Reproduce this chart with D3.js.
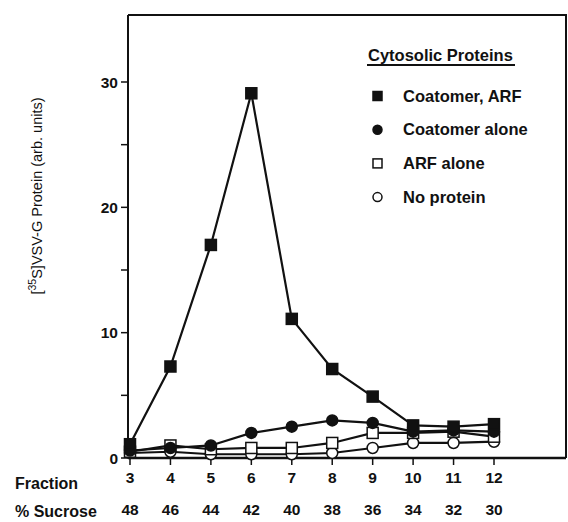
<!DOCTYPE html>
<html>
<head>
<meta charset="utf-8">
<script src="https://cdn.jsdelivr.net/npm/d3@7"></script>
<style>
  body { margin: 0; background: #fff; }
  text { font-family: "Liberation Sans", Arial, Helvetica, sans-serif; font-weight: bold; fill: #111; }
</style>
</head>
<body>
<div id="chart"></div>
<script>
// fractions along the gradient and matching sucrose %
const fractions = [3, 4, 5, 6, 7, 8, 9, 10, 11, 12];
const sucrose = [48, 46, 44, 42, 40, 38, 36, 34, 32, 30];

// series values (arb. units)
const coatomerArf = [1.1, 7.3, 17.0, 29.1, 11.1, 7.1, 4.9, 2.6, 2.5, 2.7];
const coatomerAlone = [0.6, 0.8, 1.0, 2.0, 2.5, 3.0, 2.8, 2.1, 2.2, 2.1];
const arfAlone = [0.5, 1.0, 0.7, 0.8, 0.8, 1.2, 2.0, 2.0, 2.1, 1.7];
const noProtein = [0.4, 0.5, 0.3, 0.3, 0.3, 0.4, 0.8, 1.2, 1.2, 1.3];

const yTicks = [0, 10, 20, 30];
const yMinorTicks = [5, 15, 25];

const series = [
  {name: 'Coatomer, ARF', values: coatomerArf, shape: 'square', filled: true},
  {name: 'Coatomer alone', values: coatomerAlone, shape: 'circle', filled: true},
  {name: 'ARF alone', values: arfAlone, shape: 'square', filled: false},
  {name: 'No protein', values: noProtein, shape: 'circle', filled: false}
];

const W = 568, H = 522;
const boxL = 128, boxR = 566, boxT = 15, boxB = 458;

const svg = d3.select('#chart').append('svg')
  .attr('width', W)
  .attr('height', H);

const x = d3.scaleLinear()
  .domain([3, 12])
  .range([130, 494]);

const y = d3.scaleLinear()
  .domain([0, 30])
  .range([boxB, 82]);

// frame: top and right edges
svg.append('path')
  .attr('d', 'M' + boxL + ',' + boxT + 'H' + boxR + 'V' + boxB)
  .attr('fill', 'none')
  .attr('stroke', '#111')
  .attr('stroke-width', 2);

// y axis
svg.append('line')
  .attr('x1', boxL).attr('x2', boxL)
  .attr('y1', boxT).attr('y2', boxB)
  .attr('stroke', '#111').attr('stroke-width', 2);

svg.selectAll('.ytick')
  .data(yTicks.concat(yMinorTicks))
  .enter().append('line')
  .attr('x1', boxL - 7).attr('x2', boxL)
  .attr('y1', d => y(d)).attr('y2', d => y(d))
  .attr('stroke', '#111').attr('stroke-width', 1.5);

svg.selectAll('.ylab')
  .data(yTicks)
  .enter().append('text')
  .attr('x', boxL - 10)
  .attr('y', d => y(d) + 5.5)
  .attr('text-anchor', 'end')
  .attr('font-size', 15.5)
  .text(d => d);

svg.append('text')
  .attr('transform', 'translate(42,196) rotate(-90)')
  .attr('text-anchor', 'middle')
  .attr('font-size', 14.5)
  .style('font-weight', 'normal')
  .html('[<tspan dy="-6" font-size="10.5">35</tspan><tspan dy="6">S]VSV-G Protein (arb. units)</tspan>');

// x axis
svg.append('line')
  .attr('x1', boxL).attr('x2', boxR)
  .attr('y1', boxB).attr('y2', boxB)
  .attr('stroke', '#111').attr('stroke-width', 2.5);

svg.selectAll('.xtick')
  .data(fractions)
  .enter().append('line')
  .attr('x1', d => x(d)).attr('x2', d => x(d))
  .attr('y1', boxB).attr('y2', boxB + 7)
  .attr('stroke', '#111').attr('stroke-width', 1.5);

svg.selectAll('.xlab')
  .data(fractions)
  .enter().append('text')
  .attr('x', d => x(d))
  .attr('y', 483)
  .attr('text-anchor', 'middle')
  .attr('font-size', 15.5)
  .text(d => d);

svg.selectAll('.slab')
  .data(fractions)
  .enter().append('text')
  .attr('x', d => x(d))
  .attr('y', 515)
  .attr('text-anchor', 'middle')
  .attr('font-size', 15.5)
  .text((d, i) => sucrose[i]);

svg.append('text')
  .attr('x', 15).attr('y', 489)
  .attr('font-size', 16)
  .text('Fraction');

svg.append('text')
  .attr('x', 15).attr('y', 517)
  .attr('font-size', 16)
  .text('% Sucrose');

// marker drawing
function drawMarker(g, shape, filled, cx, cy) {
  if (shape === 'square') {
    g.append('rect')
      .attr('x', cx - 5.5).attr('y', cy - 5.5)
      .attr('width', 11).attr('height', 11)
      .attr('fill', filled ? '#111' : '#fff')
      .attr('stroke', '#111').attr('stroke-width', 1.5);
  } else {
    g.append('circle')
      .attr('cx', cx).attr('cy', cy).attr('r', 5.5)
      .attr('fill', filled ? '#111' : '#fff')
      .attr('stroke', '#111').attr('stroke-width', 1.5);
  }
}

const line = d3.line()
  .x((d, i) => x(fractions[i]))
  .y(d => y(d));

// draw from back to front
series.slice().reverse().forEach(function(s) {
  const g = svg.append('g');
  g.append('path')
    .attr('d', line(s.values))
    .attr('fill', 'none')
    .attr('stroke', '#111')
    .attr('stroke-width', 2.2);
  s.values.forEach(function(v, i) {
    drawMarker(g, s.shape, s.filled, x(fractions[i]), y(v));
  });
});

// legend
const legend = svg.append('g');
legend.append('text')
  .attr('x', 368).attr('y', 61)
  .attr('font-size', 16.5)
  .text('Cytosolic Proteins');
legend.append('line')
  .attr('x1', 367).attr('x2', 515)
  .attr('y1', 65).attr('y2', 65)
  .attr('stroke', '#111').attr('stroke-width', 2);

series.forEach(function(s, i) {
  const cy = 96 + i * 33.7;
  const g = legend.append('g');
  if (s.shape === 'square') {
    g.append('rect')
      .attr('x', 373).attr('y', cy - 4.5)
      .attr('width', 9).attr('height', 9)
      .attr('fill', s.filled ? '#111' : '#fff')
      .attr('stroke', '#111').attr('stroke-width', 1.5);
  } else {
    g.append('circle')
      .attr('cx', 377.5).attr('cy', cy).attr('r', 4.5)
      .attr('fill', s.filled ? '#111' : '#fff')
      .attr('stroke', '#111').attr('stroke-width', 1.5);
  }
  g.append('text')
    .attr('x', 403).attr('y', cy + 5.5)
    .attr('font-size', 16.5)
    .text(s.name);
});
</script>
</body>
</html>
